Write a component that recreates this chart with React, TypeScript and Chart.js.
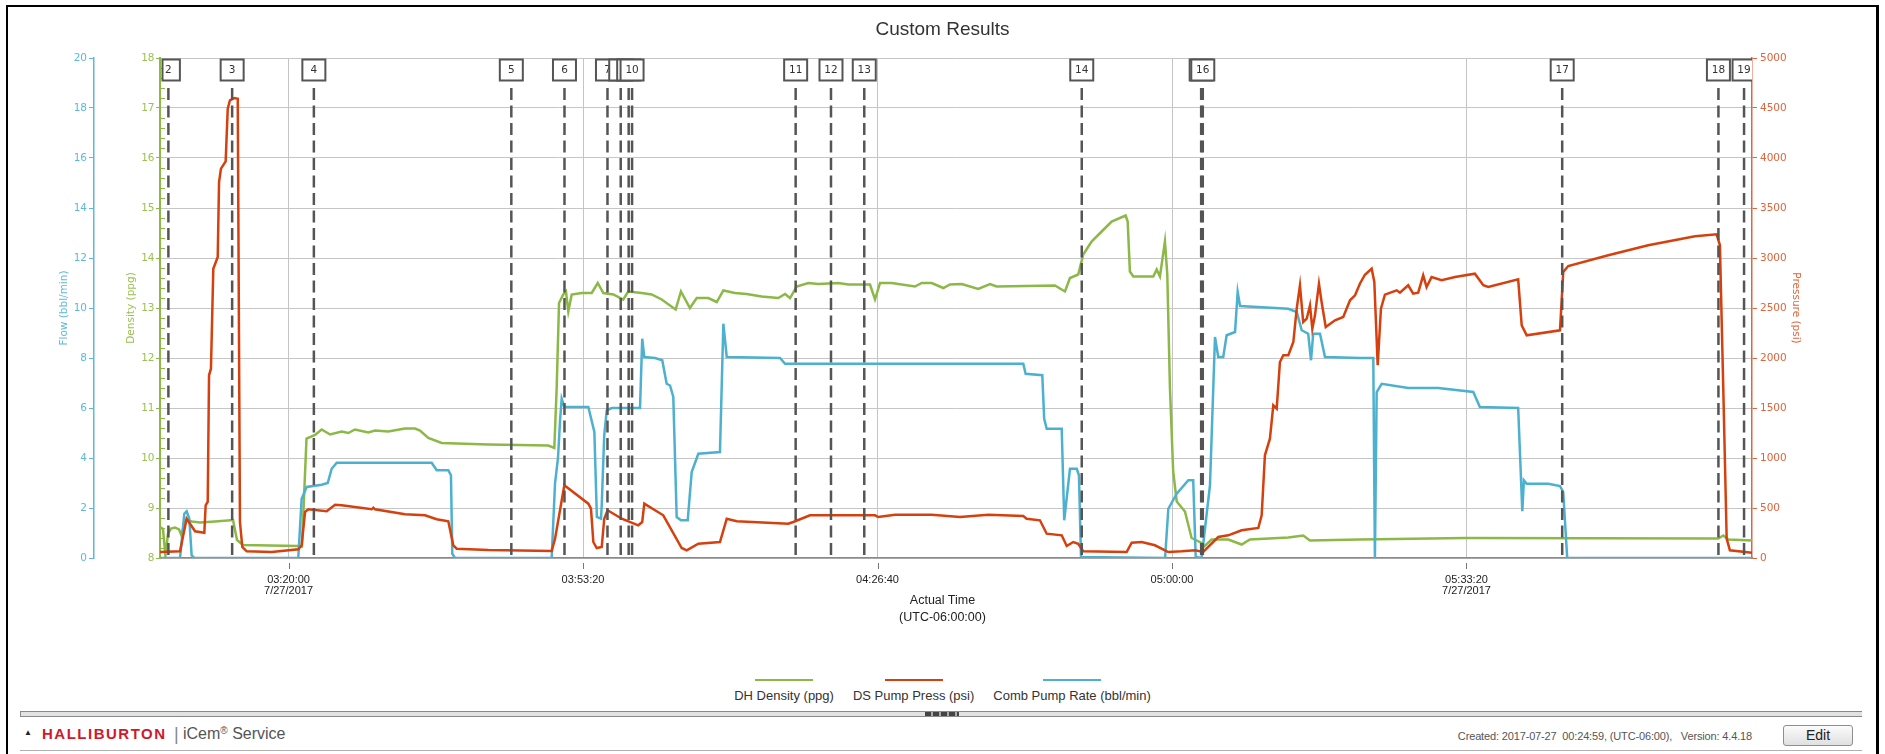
import React, { useEffect, useRef } from 'react';
import { Chart, registerables } from 'chart.js';

Chart.register(...registerables);

// ---------- data (x = seconds since midnight, 7/27/2017, UTC-06:00) ----------
const densitySeries: [number, number][] = [
  [11127, 8.62], [11147, 8.58], [11164, 8.05], [11181, 8.48], [11202, 8.59], [11229, 8.61], [11256, 8.57], [11273, 8.45],
  [11297, 8.76], [11344, 8.73], [11399, 8.71], [11501, 8.73], [11623, 8.76], [11650, 8.36], [11691, 8.26], [12064, 8.24],
  [12091, 8.23], [12122, 10.39], [12180, 10.46], [12225, 10.57], [12282, 10.47], [12361, 10.53], [12406, 10.5], [12451, 10.57],
  [12542, 10.51], [12587, 10.55], [12677, 10.53], [12791, 10.59], [12859, 10.59], [12893, 10.55], [12949, 10.4], [13040, 10.3],
  [13357, 10.27], [13764, 10.25], [13805, 10.2], [13821, 11.4], [13837, 13.1], [13866, 13.27], [13884, 13.33], [13900, 12.93],
  [13923, 13.27], [13991, 13.3], [14059, 13.3], [14100, 13.5], [14138, 13.3], [14206, 13.27], [14273, 13.17], [14307, 13.33],
  [14398, 13.3], [14466, 13.27], [14534, 13.17], [14629, 12.97], [14665, 13.33], [14726, 13.0], [14772, 13.2], [14851, 13.2],
  [14908, 13.12], [14953, 13.35], [15032, 13.3], [15111, 13.28], [15213, 13.23], [15326, 13.2], [15372, 13.28], [15406, 13.2],
  [15451, 13.43], [15530, 13.5], [15598, 13.48], [15734, 13.5], [15801, 13.47], [15949, 13.47], [15983, 13.17], [16017, 13.5],
  [16096, 13.5], [16254, 13.43], [16300, 13.5], [16368, 13.5], [16447, 13.4], [16492, 13.47], [16572, 13.48], [16684, 13.38],
  [16764, 13.48], [16809, 13.43], [17205, 13.45], [17273, 13.33], [17307, 13.6], [17363, 13.67], [17397, 14.07], [17454, 14.33],
  [17522, 14.53], [17590, 14.73], [17685, 14.85], [17699, 14.73], [17714, 13.73], [17737, 13.63], [17873, 13.63], [17896, 13.77],
  [17918, 13.63], [17952, 14.33], [17968, 13.67], [17986, 11.4], [18008, 9.73], [18032, 9.13], [18088, 8.93], [18133, 8.4],
  [18201, 8.3], [18219, 8.23], [18269, 8.37], [18382, 8.37], [18473, 8.27], [18529, 8.37], [18790, 8.41], [18891, 8.45],
  [18937, 8.35], [19276, 8.37], [19990, 8.4], [21710, 8.39], [21744, 8.45], [21778, 8.37], [21939, 8.35],
];

const pressureSeries: [number, number][] = [
  [11127, 60], [11263, 67], [11285, 227], [11308, 393], [11331, 343], [11365, 267], [11428, 253], [11437, 527],
  [11451, 560], [11460, 1827], [11473, 1893], [11489, 2893], [11519, 3010], [11528, 3760], [11541, 3893], [11573, 3967],
  [11587, 4493], [11602, 4577], [11632, 4600], [11655, 4593], [11670, 360], [11686, 110], [11716, 67], [11886, 60],
  [12066, 87], [12089, 127], [12112, 460], [12134, 487], [12259, 467], [12316, 533], [12361, 527], [12565, 487],
  [12576, 503], [12587, 487], [12791, 437], [12927, 427], [13006, 387], [13085, 367], [13119, 127], [13142, 93],
  [13357, 80], [13787, 70], [13810, 193], [13873, 727], [14036, 543], [14054, 493], [14070, 160], [14093, 100],
  [14127, 110], [14144, 393], [14167, 477], [14263, 393], [14375, 327], [14402, 360], [14416, 543], [14545, 427],
  [14670, 100], [14704, 77], [14783, 143], [14930, 160], [14976, 393], [15044, 367], [15394, 343], [15428, 360],
  [15541, 427], [15983, 427], [16005, 410], [16119, 433], [16368, 433], [16560, 410], [16752, 433], [16990, 420],
  [17013, 393], [17103, 377], [17149, 243], [17251, 227], [17285, 120], [17329, 160], [17363, 143], [17397, 67],
  [17692, 60], [17726, 153], [17794, 160], [17884, 127], [17975, 60], [18066, 67], [18156, 77], [18212, 60],
  [18314, 210], [18382, 227], [18473, 277], [18586, 300], [18609, 427], [18631, 1027], [18665, 1193], [18688, 1527],
  [18711, 1493], [18733, 1960], [18756, 2027], [18790, 2027], [18824, 2160], [18847, 2493], [18869, 2727], [18891, 2360],
  [18915, 2393], [18937, 2527], [18953, 2293], [18971, 2427], [18998, 2743], [19016, 2560], [19044, 2310], [19107, 2377],
  [19163, 2410], [19209, 2577], [19243, 2627], [19276, 2743], [19310, 2833], [19356, 2893], [19374, 2760], [19397, 1927],
  [19419, 2493], [19446, 2633], [19526, 2677], [19548, 2653], [19604, 2727], [19638, 2643], [19672, 2653], [19706, 2827],
  [19729, 2710], [19763, 2810], [19831, 2777], [19922, 2810], [20057, 2843], [20114, 2727], [20148, 2710], [20351, 2787],
  [20375, 2327], [20409, 2227], [20635, 2277], [20657, 2860], [20691, 2920], [20963, 3027], [21234, 3127], [21552, 3217],
  [21699, 3237], [21721, 3127], [21744, 1693], [21767, 193], [21789, 77], [21939, 53],
];

const flowSeries: [number, number][] = [
  [11127, 0], [11263, 0], [11274, 0.64], [11292, 1.77], [11308, 1.87], [11326, 1.57], [11342, 0.1], [11360, 0],
  [12066, 0], [12089, 2.37], [12123, 2.84], [12225, 2.93], [12266, 3.0], [12293, 3.57], [12327, 3.81], [12972, 3.81],
  [13006, 3.51], [13085, 3.51], [13103, 3.31], [13112, 0.17], [13130, 0], [13787, 0], [13810, 3.0], [13830, 4.0],
  [13844, 5.5], [13855, 6.37], [13873, 6.04], [14036, 6.04], [14077, 5.04], [14094, 1.64], [14122, 1.57], [14127, 2.11],
  [14144, 4.91], [14161, 5.91], [14195, 6.0], [14387, 6.0], [14402, 8.77], [14416, 8.04], [14489, 8.0], [14538, 7.91],
  [14568, 6.97], [14591, 6.9], [14613, 6.44], [14636, 1.64], [14665, 1.51], [14711, 1.51], [14738, 3.44], [14783, 4.17],
  [14930, 4.24], [14953, 9.37], [14976, 8.04], [15338, 8.0], [15372, 7.77], [16990, 7.77], [17006, 7.37], [17119, 7.31],
  [17132, 5.57], [17149, 5.17], [17251, 5.17], [17268, 1.51], [17307, 3.57], [17353, 3.57], [17368, 3.31], [17382, 0.04],
  [17953, 0], [17975, 1.97], [18032, 2.57], [18111, 3.11], [18144, 3.11], [18161, 0.04], [18201, 0], [18258, 2.91],
  [18292, 8.84], [18314, 8.04], [18348, 8.04], [18371, 8.91], [18428, 9.04], [18446, 10.64], [18462, 10.08], [18790, 9.97],
  [18847, 9.84], [18881, 9.11], [18925, 8.97], [18944, 7.91], [18959, 8.97], [19005, 8.97], [19039, 8.04], [19276, 8.0],
  [19367, 8.0], [19378, 0], [19390, 6.64], [19424, 6.97], [19604, 6.8], [19808, 6.8], [20046, 6.64], [20091, 6.04],
  [20351, 6.0], [20379, 1.87], [20390, 3.11], [20409, 2.97], [20555, 2.97], [20635, 2.88], [20657, 2.64], [20684, 0],
  [21939, 0],
];

const markerTimes = [11184, 11617, 12172, 13513, 13874, 14166, 14256, 14310, 14333, 15444, 15684, 15910, 17387, 18198, 18209, 20650, 21711, 21885];
const markerLabels = ['2', '3', '4', '5', '6', '7', '8', '9', '10', '11', '12', '13', '14', '15', '16', '17', '18', '19'];

const timeTicks = [12000, 14000, 16000, 18000, 20000];
const dateTicks = [12000, 20000];
const dateLabel = '7/27/2017';
const timeMin = 11127;
const timeMax = 21939;

const flowMin = 0, flowMax = 20, flowStep = 2;
const densityMin = 8, densityMax = 18, densityStep = 1, densityMinorStep = 0.2;
const pressureMin = 0, pressureMax = 5000, pressureStep = 500;

const seriesLabels = ['DH Density (ppg)', 'DS Pump Press (psi)', 'Comb Pump Rate (bbl/min)'];
const axisTitles = { flow: 'Flow (bbl/min)', density: 'Density (ppg)', pressure: 'Pressure (psi)' };
const chartTitle = 'Custom Results';
const xTitleLines = ['Actual Time', '(UTC-06:00:00)'];
const footerInfo = 'Created: 2017-07-27  00:24:59, (UTC-06:00),   Version: 4.4.18';

// ---------- styles ----------
const GREEN = '#8cb847';
const RED = '#d6400e';
const BLUE = '#4cb1cf';
const GREEN_TXT = '#9cc055';
const BLUE_TXT = '#5cbad6';
const RED_TXT = '#e0643c';
const SANS = '"Liberation Sans", Arial, sans-serif';
const DEJAVU = '"DejaVu Sans", Verdana, sans-serif';

const pad2 = (n: number) => String(n).padStart(2, '0');
const fmtTime = (v: number) => {
  const h = Math.floor(v / 3600);
  const m = Math.floor((v % 3600) / 60);
  const s = Math.round(v % 60);
  return `${pad2(h)}:${pad2(m)}:${pad2(s)}`;
};
const plainNum = (v: any) => String(Math.round(Number(v) * 1000) / 1000);

const overlayPlugin = {
  id: 'overlay',
  afterDatasetsDraw(chart: any) {
    const { ctx, chartArea: a, scales } = chart;
    const xs = scales.x;
    const ds = scales.density;
    ctx.save();

    // density minor ticks (inside plot)
    ctx.strokeStyle = GREEN;
    ctx.lineWidth = 1;
    for (let v = densityMin + densityMinorStep; v < densityMax - 1e-6; v += densityMinorStep) {
      if (Math.abs(v - Math.round(v)) < 1e-6) continue;
      const y = Math.round(ds.getPixelForValue(v)) + 0.5;
      ctx.beginPath();
      ctx.moveTo(a.left + 1, y);
      ctx.lineTo(a.left + 5, y);
      ctx.stroke();
    }

    // x tick marks (detached below axis)
    ctx.strokeStyle = '#777';
    ctx.lineWidth = 1;
    timeTicks.forEach((t) => {
      const px = Math.round(xs.getPixelForValue(t)) + 0.5;
      ctx.beginPath();
      ctx.moveTo(px, a.bottom + 5);
      ctx.lineTo(px, a.bottom + 11);
      ctx.stroke();
    });

    // event markers
    ctx.beginPath();
    ctx.rect(a.left, 0, a.right - a.left, a.bottom + 1);
    ctx.clip();
    markerTimes.forEach((t, i) => {
      const px = xs.getPixelForValue(t);
      ctx.setLineDash([12, 5.5]);
      ctx.lineWidth = 2.5;
      ctx.strokeStyle = '#555';
      ctx.beginPath();
      ctx.moveTo(px, a.top + 30);
      ctx.lineTo(px, a.bottom);
      ctx.stroke();
      ctx.setLineDash([]);
      let left = px - 11.5;
      const right = px + 11.5;
      if (left < a.left + 2.5) left = a.left + 2.5;
      const top = a.top + 1.5;
      const h = 21;
      ctx.fillStyle = '#fff';
      ctx.fillRect(left, top, right - left, h);
      ctx.lineWidth = 2;
      ctx.strokeStyle = '#555';
      ctx.strokeRect(left, top, right - left, h);
      ctx.fillStyle = '#333';
      ctx.font = `10.5px ${DEJAVU}`;
      ctx.textAlign = 'center';
      ctx.textBaseline = 'middle';
      ctx.fillText(markerLabels[i], px, top + h / 2 + 0.5);
    });
    ctx.restore();
  },
};

export default function App() {
  const ref = useRef<HTMLCanvasElement | null>(null);

  useEffect(() => {
    if (!ref.current) return;
    const tickFont = { family: DEJAVU, size: 10.5 };
    const titleFont = { family: DEJAVU, size: 10.5 };
    const chart = new Chart(ref.current, {
      type: 'line',
      data: {
        datasets: [
          {
            label: seriesLabels[0],
            data: densitySeries.map(([x, y]) => ({ x, y })),
            yAxisID: 'density',
            borderColor: GREEN,
            borderWidth: 2.5,
            pointRadius: 0,
            tension: 0,
            order: 2,
          },
          {
            label: seriesLabels[1],
            data: pressureSeries.map(([x, y]) => ({ x, y })),
            yAxisID: 'pressure',
            borderColor: RED,
            borderWidth: 2.5,
            pointRadius: 0,
            tension: 0,
            order: 0,
          },
          {
            label: seriesLabels[2],
            data: flowSeries.map(([x, y]) => ({ x, y })),
            yAxisID: 'flow',
            borderColor: BLUE,
            borderWidth: 2.5,
            pointRadius: 0,
            tension: 0,
            order: 1,
          },
        ],
      },
      options: {
        responsive: false,
        animation: false,
        events: [],
        layout: { padding: { left: 0, top: 58, right: 0, bottom: 0 } },
        plugins: { legend: { display: false }, tooltip: { enabled: false }, title: { display: false } },
        scales: {
          x: {
            type: 'linear',
            min: timeMin,
            max: timeMax,
            afterBuildTicks: (s: any) => {
              s.ticks = timeTicks.map((v) => ({ value: v }));
            },
            afterFit: (s: any) => {
              s.height = 82;
            },
            grid: { color: '#c4c4c4', lineWidth: 1, drawTicks: false },
            border: { color: '#8a8a8a', width: 1.5 },
            ticks: {
              padding: 16,
              color: '#222',
              font: { family: SANS, size: 11, lineHeight: 1.05 },
              maxRotation: 0,
              autoSkip: false,
              callback: (v: any) => (dateTicks.includes(Number(v)) ? [fmtTime(Number(v)), dateLabel] : fmtTime(Number(v))),
            },
          },
          flow: {
            type: 'linear',
            position: 'left',
            weight: 2,
            min: flowMin,
            max: flowMax,
            afterFit: (s: any) => {
              s.width = 94;
            },
            ticks: { stepSize: flowStep, color: BLUE_TXT, font: tickFont, padding: 2, autoSkip: false, callback: plainNum },
            grid: { drawOnChartArea: true, color: '#c6c6c6', lineWidth: 1, tickLength: 5, tickColor: BLUE_TXT },
            border: { color: BLUE_TXT, width: 1.5 },
            title: { display: true, text: axisTitles.flow, color: BLUE_TXT, font: titleFont, padding: { top: 57.5, bottom: 0 } },
          },
          density: {
            type: 'linear',
            position: 'left',
            weight: 1,
            min: densityMin,
            max: densityMax,
            afterFit: (s: any) => {
              s.width = 66;
            },
            ticks: { stepSize: densityStep, color: GREEN_TXT, font: tickFont, padding: 1.5, autoSkip: false, callback: plainNum },
            grid: { drawOnChartArea: false, tickLength: 4, tickColor: GREEN },
            border: { color: GREEN, width: 2 },
            title: { display: true, text: axisTitles.density, color: GREEN_TXT, font: titleFont, padding: { top: 30.5, bottom: 0 } },
          },
          pressure: {
            type: 'linear',
            position: 'right',
            min: pressureMin,
            max: pressureMax,
            afterFit: (s: any) => {
              s.width = 133;
            },
            ticks: { stepSize: pressureStep, color: RED_TXT, font: tickFont, padding: 3, autoSkip: false, callback: plainNum },
            grid: { drawOnChartArea: false, tickLength: 5, tickColor: RED_TXT },
            border: { color: RED_TXT, width: 1.5 },
            title: { display: true, text: axisTitles.pressure, color: RED_TXT, font: titleFont, padding: { top: 82.5, bottom: 0 } },
          },
        },
      } as any,
      plugins: [overlayPlugin],
    });
    return () => chart.destroy();
  }, []);

  const legendColors = [GREEN, RED, BLUE];

  return (
    <div
      style={{
        position: 'absolute',
        left: 0,
        top: 0,
        width: 1885,
        height: 754,
        overflow: 'hidden',
        background: '#fff',
        fontFamily: SANS,
      }}
    >
      <div
        style={{
          position: 'absolute',
          left: 6,
          top: 5,
          width: 1873,
          height: 800,
          boxSizing: 'border-box',
          borderLeft: '2px solid #000',
          borderTop: '2px solid #000',
          borderRight: '3px solid #000',
        }}
      />
      <div style={{ position: 'absolute', left: 0, top: 0 }}>
        <canvas ref={ref} width={1885} height={640} style={{ display: 'block', width: 1885, height: 640 }} />
      </div>
      <div
        style={{
          position: 'absolute',
          left: 0,
          top: 17,
          width: 1885,
          textAlign: 'center',
          fontSize: 19,
          lineHeight: '23px',
          color: '#333',
        }}
      >
        {chartTitle}
      </div>
      <div
        style={{
          position: 'absolute',
          left: 0,
          top: 592,
          width: 1885,
          textAlign: 'center',
          fontSize: 12.5,
          lineHeight: '17px',
          color: '#222',
        }}
      >
        {xTitleLines.map((l) => (
          <div key={l}>{l}</div>
        ))}
      </div>
      <div
        style={{
          position: 'absolute',
          left: 0,
          top: 679,
          width: 1885,
          display: 'flex',
          justifyContent: 'center',
          gap: 19,
        }}
      >
        {seriesLabels.map((l, i) => (
          <div key={l} style={{ display: 'flex', flexDirection: 'column', alignItems: 'center' }}>
            <div style={{ width: 58, height: 2, background: legendColors[i] }} />
            <div style={{ marginTop: 7, fontSize: 13, lineHeight: '15px', color: '#333', whiteSpace: 'nowrap' }}>{l}</div>
          </div>
        ))}
      </div>
      <div
        style={{
          position: 'absolute',
          left: 20,
          top: 711,
          width: 1842,
          height: 6,
          boxSizing: 'border-box',
          borderTop: '1px solid #8a8a8a',
          borderBottom: '1px solid #8a8a8a',
          borderLeft: '1px solid #8a8a8a',
          background: '#e2e2e2',
        }}
      />
      <div
        style={{
          position: 'absolute',
          left: 925,
          top: 712,
          width: 34,
          height: 4,
          background: 'repeating-linear-gradient(90deg, #444 0px, #444 6px, #aaa 6px, #aaa 8px)',
        }}
      />
      <div style={{ position: 'absolute', left: 24, top: 728, fontSize: 8, lineHeight: '10px', color: '#222' }}>▲</div>
      <div
        style={{
          position: 'absolute',
          left: 42,
          top: 725,
          fontSize: 15,
          fontWeight: 'bold',
          letterSpacing: 1.5,
          lineHeight: '18px',
          color: '#d2182b',
        }}
      >
        HALLIBURTON
      </div>
      <div style={{ position: 'absolute', left: 174, top: 723, fontSize: 18, lineHeight: '22px', color: '#888' }}>|</div>
      <div style={{ position: 'absolute', left: 183, top: 725, fontSize: 16, lineHeight: '18px', color: '#555' }}>
        iCem<span style={{ fontSize: 10, verticalAlign: 'top', lineHeight: '12px' }}>®</span> Service
      </div>
      <div
        style={{
          position: 'absolute',
          right: 133,
          top: 729,
          fontSize: 11,
          letterSpacing: -0.15,
          lineHeight: '14px',
          color: '#555',
          whiteSpace: 'pre',
        }}
      >
        {footerInfo}
      </div>
      <div
        style={{
          position: 'absolute',
          left: 1783,
          top: 725,
          width: 70,
          height: 21,
          boxSizing: 'border-box',
          border: '1px solid #8e8e8e',
          borderRadius: 3,
          background: 'linear-gradient(#fbfbfb, #e0e0e0)',
          textAlign: 'center',
          fontSize: 14,
          lineHeight: '19px',
          color: '#222',
        }}
      >
        Edit
      </div>
      <div style={{ position: 'absolute', left: 20, top: 750, width: 1842, height: 1, background: '#b0b0b0' }} />
    </div>
  );
}
